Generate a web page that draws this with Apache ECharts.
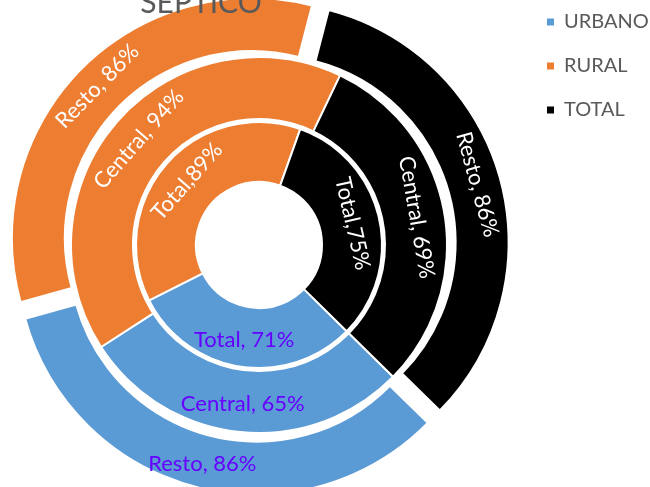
<!DOCTYPE html>
<html><head><meta charset="utf-8">
<script src="https://cdn.jsdelivr.net/npm/echarts@6/dist/echarts.min.js"></script>
<style>html,body{margin:0;padding:0;background:#fff}#c{width:650px;height:487px}</style>
</head><body><div id="c"></div>
<script>
// ---- data ----
const titleText = 'SEPTICO';
const categories = ['URBANO', 'RURAL', 'TOTAL'];
const ringNames = ['Total', 'Central', 'Resto'];
const totalValues = [71, 89, 75];
const centralValues = [65, 94, 69];
const restoValues = [86, 86, 86];
const labelSeparators = [[', ', ',', ','], [', ', ', ', ', '], [', ', ', ', ', ']];

// ---- styles ----
const colors = ['#5B9BD5', '#ED7D31', '#000000'];
const labelColors = ['#6600FF', '#FFFFFF', '#FFFFFF'];
const FONT = 'Lato';
const firstSliceAngle = 134.5; // clockwise from 12 o'clock (Excel style)

function midAngles(values) {
  const sum = values.reduce((a, b) => a + b, 0);
  let cum = 0;
  return values.map(v => { const m = firstSliceAngle + (cum + v / 2) / sum * 360; cum += v; return m; });
}
function norm(a) { return ((a % 360) + 540) % 360 - 180; }

function ring(idx, values, radius, exploded) {
  const mids = midAngles(values);
  return {
    type: 'pie',
    name: ringNames[idx],
    center: [259, 245],
    radius: radius,
    startAngle: 90 - firstSliceAngle,
    clockwise: true,
    avoidLabelOverlap: false,
    selectedMode: exploded ? 'multiple' : false,
    selectedOffset: 10,
    silent: true,
    label: { show: true, position: 'inside', fontFamily: FONT, fontSize: 22 },
    labelLine: { show: false },
    emphasis: { disabled: true },
    data: values.map((v, i) => ({
      name: categories[i],
      value: v,
      selected: !!exploded,
      itemStyle: { color: colors[i], borderColor: '#FFFFFF', borderWidth: 2 },
      select: { itemStyle: { color: colors[i], borderColor: '#FFFFFF', borderWidth: 2 }, label: { color: labelColors[i] } },
      label: {
        color: labelColors[i],
        rotate: i === 0 ? 0 : norm(-mids[i]),
        formatter: ringNames[idx] + labelSeparators[idx][i] + v + '%'
      }
    }))
  };
}

const chart = echarts.init(document.getElementById('c'), null, { renderer: 'canvas' });
chart.setOption({
  animation: false,
  backgroundColor: '#FFFFFF',
  title: {
    text: titleText, left: 196, top: -17, textAlign: 'center',
    textStyle: { fontFamily: FONT, fontSize: 30, fontWeight: 'normal', color: '#595959' }
  },
  legend: {
    orient: 'vertical', left: 540, top: 7, icon: 'rect', itemWidth: 9, itemHeight: 9, itemGap: 24,
    selectedMode: false, data: categories,
    textStyle: { fontFamily: FONT, fontSize: 20, lineHeight: 20, color: '#595959', padding: [0, 0, 0, 4] }
  },
  series: [
    ring(0, totalValues, [63, 123], false),
    ring(1, centralValues, [126, 188], false),
    ring(2, restoValues, [187, 240], true)
  ]
});
</script></body></html>
